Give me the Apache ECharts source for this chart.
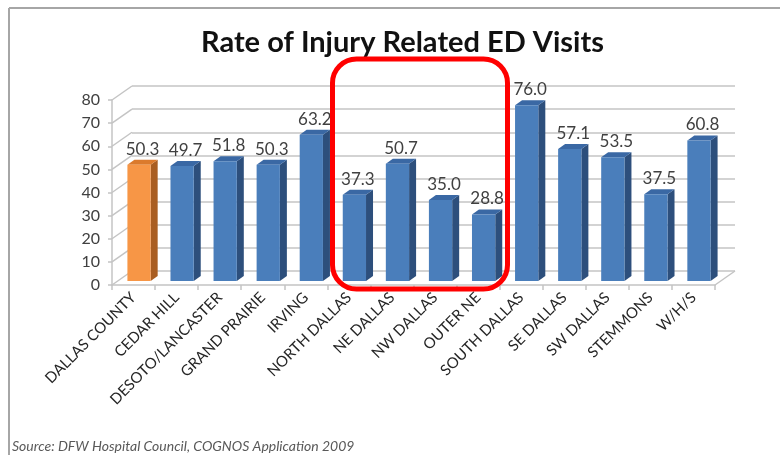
<!DOCTYPE html>
<html>
<head>
<meta charset="utf-8">
<script src="https://cdn.jsdelivr.net/npm/echarts@6/dist/echarts.min.js"></script>
<style>
html,body{margin:0;padding:0;background:#fff;}
#chart{width:780px;height:455px;}
</style>
</head>
<body>
<div id="chart"></div>
<script>
// ---- data ----
const categories = ['DALLAS COUNTY','CEDAR HILL','DESOTO/LANCASTER','GRAND PRAIRIE','IRVING','NORTH DALLAS','NE DALLAS','NW DALLAS','OUTER NE','SOUTH DALLAS','SE DALLAS','SW DALLAS','STEMMONS','W/H/S'];
const rates = [50.3, 49.7, 51.8, 50.3, 63.2, 37.3, 50.7, 35.0, 28.8, 76.0, 57.1, 53.5, 37.5, 60.8];
const highlightIndex = [0];
const yMin = 0, yMax = 80, yStep = 10;
const titleText = 'Rate of Injury Related ED Visits';
const sourceText = 'Source: DFW Hospital Council, COGNOS Application 2009';

// ---- style ----
const FONT = 'Lato, "Open Sans", sans-serif';
const BACK_DX = 20, BACK_DY = -14;   // depth of the 3D box
const BAR_OX = 5.5, BAR_OY = -4;     // bar front plane inside box
const BAR_DX = 7, BAR_DY = -5;       // bar depth
const GRID = {left:112, right:65, top:100, bottom:170};
const GRID_COLOR = '#c4c4c4';

const yTicks = [];
for (let v = yMin; v <= yMax; v += yStep) yTicks.push(v);

const chart = echarts.init(document.getElementById('chart'), null, {renderer:'canvas'});

function barItem(params, api) {
  const i = api.value(0), v = api.value(1);
  const c0 = api.coord([i, 0]);
  const c1 = api.coord([i, v]);
  const band = api.size([1, 0])[0];
  const fw = band * 0.54;
  const x0 = c0[0] - fw / 2 + BAR_OX, x1 = x0 + fw;
  const yb = c0[1] + BAR_OY, yt = c1[1] + BAR_OY;
  const hi = highlightIndex.indexOf(i) >= 0;
  const front = hi ? '#F79646' : '#4A7EBB';
  const side = hi ? '#A95E22' : '#2D4F7C';
  const top = hi ? '#DB7A2C' : '#3A68A4';
  return {
    type: 'group',
    children: [
      {type:'polygon', shape:{points:[[x1,yb],[x1+BAR_DX,yb+BAR_DY],[x1+BAR_DX,yt+BAR_DY],[x1,yt]]}, style:{fill:side}},
      {type:'polygon', shape:{points:[[x0,yt],[x1,yt],[x1+BAR_DX,yt+BAR_DY],[x0+BAR_DX,yt+BAR_DY]]}, style:{fill:top}},
      {type:'rect', shape:{x:x0, y:yt, width:fw, height:yb-yt}, style:{fill:front}},
      {type:'text', x:x0 + (fw + BAR_DX) / 2, y:yt + BAR_DY - 2,
        style:{text:v.toFixed(1), fill:'#404040', font:'17px ' + FONT, textAlign:'center', textVerticalAlign:'bottom'}}
    ]
  };
}

function wallItem(params, api) {
  const kind = api.value(0), v = api.value(1);
  const cs = params.coordSys;
  const y = api.coord([0, v])[1];
  const x = kind === 0 ? cs.x : cs.x + cs.width;
  return {type:'line', shape:{x1:x, y1:y, x2:x + BACK_DX, y2:y + BACK_DY},
    style:{stroke:GRID_COLOR, lineWidth:1.5}};
}

const wallData = yTicks.map(v => [0, v]).concat([[1, yMin]]);

const option = {
  backgroundColor: '#ffffff',
  animation: false,
  title: {
    text: titleText, left: 196, top: 23,
    textStyle: {fontFamily: FONT, fontWeight: 'bold', fontSize: 29, color: '#111'}
  },
  grid: [
    {left: GRID.left, right: GRID.right, top: GRID.top, bottom: GRID.bottom},
    {left: GRID.left + BACK_DX, right: GRID.right - BACK_DX, top: GRID.top + BACK_DY, bottom: GRID.bottom - BACK_DY}
  ],
  xAxis: [
    {type:'category', gridIndex:0, data:categories, boundaryGap:true,
      axisLine:{show:true, lineStyle:{color:GRID_COLOR, width:1.5}},
      axisTick:{show:true, length:5, lineStyle:{color:GRID_COLOR, width:1.5}},
      axisLabel:{rotate:45, margin:10, interval:0, color:'#262626', fontFamily:FONT, fontSize:15}},
    {type:'category', gridIndex:1, data:categories, show:false}
  ],
  yAxis: [
    {type:'value', gridIndex:0, min:yMin, max:yMax, interval:yStep,
      axisLine:{show:true, lineStyle:{color:GRID_COLOR, width:1.5}},
      axisTick:{show:true, length:4, lineStyle:{color:GRID_COLOR, width:1.5}},
      splitLine:{show:false},
      axisLabel:{margin:12, color:'#404040', fontFamily:FONT, fontSize:16}},
    {type:'value', gridIndex:1, min:yMin, max:yMax, interval:yStep,
      axisLine:{show:false}, axisTick:{show:false}, axisLabel:{show:false},
      splitLine:{show:true, lineStyle:{color:GRID_COLOR, width:1.5}}}
  ],
  series: [
    {type:'custom', xAxisIndex:0, yAxisIndex:0, data:wallData, renderItem:wallItem, silent:true, z:1},
    {type:'custom', xAxisIndex:0, yAxisIndex:0, data:rates.map((v, i) => [i, v]), renderItem:barItem, z:5,
      encode:{x:0, y:1}}
  ],
  graphic: [
    {type:'line', shape:{x1:9, y1:8, x2:780, y2:8}, style:{stroke:'#a6a6a6', lineWidth:2}, z:10},
    {type:'line', shape:{x1:9, y1:8, x2:9, y2:455}, style:{stroke:'#a6a6a6', lineWidth:2}, z:10},
    {type:'rect', shape:{x:332.5, y:59, width:175, height:230, r:24},
      style:{fill:'none', stroke:'#ff0000', lineWidth:5}, z:20},
    {type:'text', left:12, top:439,
      style:{text:sourceText, fill:'#595959', font:'italic 14px ' + FONT}, z:10}
  ]
};
chart.setOption(option);
</script>
</body>
</html>
